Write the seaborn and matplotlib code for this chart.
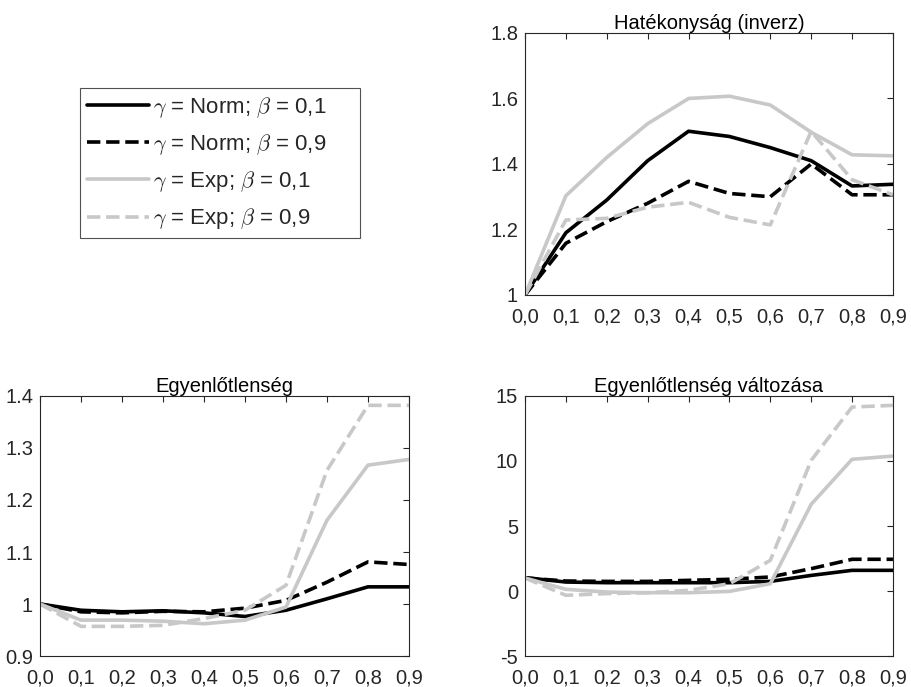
import numpy as np
import pandas as pd
import matplotlib
matplotlib.use("Agg")
import matplotlib.pyplot as plt
import seaborn as sns

x = [0.0, 0.1, 0.2, 0.3, 0.4, 0.5, 0.6, 0.7, 0.8, 0.9]
x_labels = ["0,0", "0,1", "0,2", "0,3", "0,4", "0,5", "0,6", "0,7", "0,8", "0,9"]
series = ["$\\gamma$ = Norm; $\\beta$ = 0,1", "$\\gamma$ = Norm; $\\beta$ = 0,9",
          "$\\gamma$ = Exp; $\\beta$ = 0,1", "$\\gamma$ = Exp; $\\beta$ = 0,9"]

# Hatékonyság (inverz)
hat_norm01 = [1.0, 1.19, 1.29, 1.41, 1.50, 1.484, 1.45, 1.41, 1.333, 1.338]
hat_norm09 = [1.0, 1.158, 1.224, 1.28, 1.347, 1.31, 1.30, 1.40, 1.306, 1.306]
hat_exp01 = [1.0, 1.303, 1.42, 1.523, 1.60, 1.607, 1.58, 1.497, 1.428, 1.425]
hat_exp09 = [1.0, 1.229, 1.234, 1.268, 1.283, 1.237, 1.214, 1.50, 1.352, 1.306]

# Egyenlőtlenség
egy_norm01 = [1.0, 0.988, 0.985, 0.987, 0.983, 0.976, 0.988, 1.010, 1.033, 1.033]
egy_norm09 = [1.0, 0.985, 0.983, 0.986, 0.985, 0.992, 1.007, 1.042, 1.081, 1.076]
egy_exp01 = [1.0, 0.969, 0.969, 0.967, 0.962, 0.969, 0.994, 1.161, 1.267, 1.278]
egy_exp09 = [1.0, 0.957, 0.957, 0.959, 0.972, 0.988, 1.036, 1.257, 1.382, 1.382]

# Egyenlőtlenség változása
valt_norm01 = [1.03, 0.69, 0.64, 0.64, 0.64, 0.64, 0.74, 1.2, 1.59, 1.59]
valt_norm09 = [1.0, 0.77, 0.74, 0.74, 0.82, 0.9, 1.08, 1.72, 2.44, 2.44]
valt_exp01 = [1.0, 0.13, -0.08, -0.13, -0.13, -0.03, 0.56, 6.67, 10.13, 10.38]
valt_exp09 = [1.0, -0.33, -0.2, -0.13, 0.05, 0.56, 2.36, 10.05, 14.15, 14.28]

panels = [
    ("Hatékonyság (inverz)", [hat_norm01, hat_norm09, hat_exp01, hat_exp09],
     (1.0, 1.8), [1.0, 1.2, 1.4, 1.6, 1.8], ["1", "1.2", "1.4", "1.6", "1.8"]),
    ("Egyenlőtlenség", [egy_norm01, egy_norm09, egy_exp01, egy_exp09],
     (0.9, 1.4), [0.9, 1.0, 1.1, 1.2, 1.3, 1.4], ["0.9", "1", "1.1", "1.2", "1.3", "1.4"]),
    ("Egyenlőtlenség változása", [valt_norm01, valt_norm09, valt_exp01, valt_exp09],
     (-5, 15), [-5, 0, 5, 10, 15], ["-5", "0", "5", "10", "15"]),
]

colors = ["black", "black", "#c8c8c8", "#c8c8c8"]
styles = ["-", "--", "-", "--"]

sns.set_style("white")
plt.rcParams["font.family"] = ["Liberation Sans", "DejaVu Sans"]
plt.rcParams["mathtext.fontset"] = "cm"

fig = plt.figure(figsize=(9.11, 6.87), dpi=100)
positions = [
    [0.5763, 0.5706, 0.4039, 0.3814],
    [0.0439, 0.0451, 0.4050, 0.3785],
    [0.5763, 0.0451, 0.4039, 0.3785],
]

edge = "#262626"
fs = 14.5
handles = None
for pos, (title, data, ylim, yticks, ylabels) in zip(positions, panels):
    ax = fig.add_axes(pos)
    for vals, c, ls, name in zip(data, colors, styles, series):
        sns.lineplot(x=x, y=vals, ax=ax, color=c, linestyle=ls, linewidth=2.6, label=name)
    ax.set_xlim(0, 0.9)
    ax.set_ylim(*ylim)
    ax.set_xticks(x)
    ax.set_xticklabels(x_labels)
    ax.set_yticks(yticks)
    ax.set_yticklabels(ylabels)
    ax.set_title(title, fontsize=fs, pad=3, color="black")
    ax.tick_params(direction="in", top=True, right=True, length=4, width=0.8,
                   labelsize=fs, colors=edge, labelcolor=edge, pad=5)
    ax.tick_params(axis="x", pad=9)
    for sp in ax.spines.values():
        sp.set_color(edge)
        sp.set_linewidth(0.8)
    if handles is None:
        handles, labs = ax.get_legend_handles_labels()
    ax.get_legend().remove()

leg = fig.legend(handles, series, loc="upper left",
                 bbox_to_anchor=(80 / 911, 1 - 238 / 687, 280 / 911, 150 / 687),
                 mode="expand", borderaxespad=0, fontsize=16, handlelength=2.8,
                 handletextpad=0.2, labelspacing=0.55, frameon=True, fancybox=False,
                 borderpad=0.3)
leg.get_frame().set_edgecolor(edge)
leg.get_frame().set_linewidth(0.8)

fig.savefig("out.png", dpi=100)
